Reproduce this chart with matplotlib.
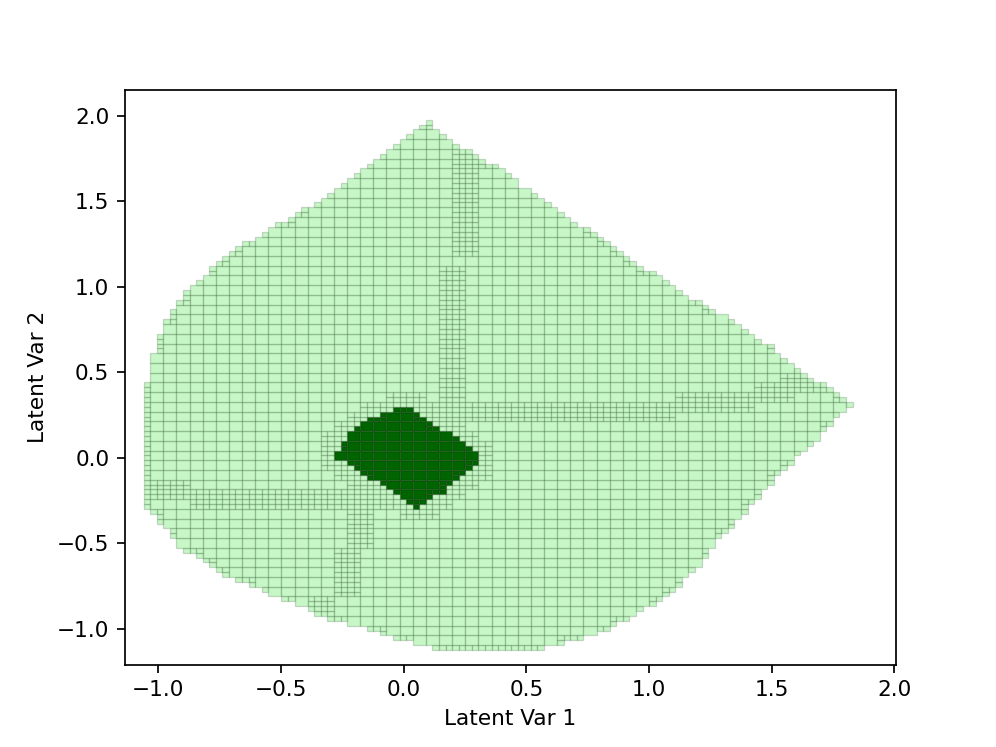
import numpy as np
import matplotlib.pyplot as plt
from matplotlib.path import Path
from matplotlib.patches import Rectangle
from matplotlib.collections import PatchCollection

# outline of the light region
outer_x = [0.101, 0.170, 0.304, 0.414, 0.476, 0.569, 0.679, 0.788, 0.895, 0.997, 1.106, 1.216, 1.318,
           1.425, 1.481, 1.617, 1.691, 1.780, 1.830, 1.800, 1.746, 1.691, 1.597, 1.433, 1.283, 1.168,
           1.046, 0.904, 0.720, 0.516, 0.149, -0.014, -0.164, -0.299, -0.421, -0.584, -0.727, -0.829,
           -0.918, -0.980, -1.033, -1.065, -1.065, -1.033, -1.005, -0.980, -0.924, -0.870, -0.768,
           -0.659, -0.552, -0.450, -0.340]
outer_y = [1.975, 1.879, 1.762, 1.674, 1.591, 1.528, 1.392, 1.304, 1.187, 1.099, 0.988, 0.901, 0.819,
           0.702, 0.673, 0.505, 0.446, 0.358, 0.320, 0.300, 0.212, 0.125, 0.0, -0.246, -0.480, -0.684,
           -0.830, -0.947, -1.064, -1.123, -1.123, -1.064, -0.988, -0.947, -0.860, -0.772, -0.684,
           -0.596, -0.509, -0.392, -0.322, -0.246, 0.329, 0.534, 0.673, 0.760, 0.906, 0.994, 1.129,
           1.246, 1.333, 1.421, 1.509]

# outline of the dark diamond
dia_x = [-0.290, -0.258, -0.204, -0.149, -0.068, -0.042, 0.034, 0.088, 0.197, 0.299, 0.305, 0.251,
         0.170, 0.088, 0.063, 0.037, -0.022, -0.122, -0.204, -0.258, -0.290]
dia_y = [0.005, 0.076, 0.164, 0.222, 0.271, 0.300, 0.300, 0.222, 0.135, 0.047, -0.041, -0.070,
         -0.187, -0.265, -0.294, -0.294, -0.206, -0.129, -0.070, -0.012, -0.012]

# bands where the boxes are split finer (x0, x1, y0, y1)
fine_x0 = [0.197, 0.141, 0.20, 1.099, 1.425, 1.53, -1.07, -0.87, -0.23, -0.287, -0.39]
fine_x1 = [0.304, 0.251, 1.099, 1.425, 1.59, 1.72, -0.87, 0.0, -0.148, -0.177, -0.287]
fine_y0 = [1.18, 0.24, 0.213, 0.271, 0.329, 0.40, -0.246, -0.304, -0.52, -0.80, -0.906]
fine_y1 = [1.88, 1.13, 0.329, 0.388, 0.446, 0.505, -0.129, -0.187, -0.129, -0.526, -0.81]

# box grid
dx, dy = 0.0535, 0.0569
gx0, gy0 = -1.0326, 0.2708

outer = Path(np.column_stack([outer_x, outer_y]))
dia = Path(np.column_stack([dia_x, dia_y]))


def in_fine(cx, cy):
    for a, b, c, d in zip(fine_x0, fine_x1, fine_y0, fine_y1):
        if a <= cx <= b and c <= cy <= d:
            return True
    return False


light = []
dark = []
for k in range(-2, 56):
    for j in range(-26, 31):
        x0 = gx0 + k * dx
        y0 = gy0 + j * dy
        subs = [(x0 + a * dx / 2, y0 + b * dy / 2) for a in (0, 1) for b in (0, 1)]
        cen = [(s[0] + dx / 4, s[1] + dy / 4) for s in subs]
        oin = outer.contains_points(cen)
        if not oin.any():
            continue
        din = dia.contains_points(cen)
        if din.all():
            dark.append((x0, y0, dx, dy))
            continue
        # nearby points for the ring around the diamond
        near = [(x0 + a * dx, y0 + b * dy) for a in (-0.5, 0.5, 1.5) for b in (-0.5, 0.5, 1.5)]
        split = (not oin.all()) or in_fine(x0 + dx / 2, y0 + dy / 2) or dia.contains_points(near).any()
        if not split:
            light.append((x0, y0, dx, dy))
            continue
        for s, o, d in zip(subs, oin, din):
            if d:
                dark.append((s[0], s[1], dx / 2, dy / 2))
            elif o:
                light.append((s[0], s[1], dx / 2, dy / 2))

fig, ax = plt.subplots(dpi=155.625)
pl = PatchCollection([Rectangle((r[0], r[1]), r[2], r[3]) for r in light],
                     facecolor=(0.565, 0.933, 0.565, 0.5), edgecolor=(0, 0.2, 0, 0.18), linewidth=0.6)
pd = PatchCollection([Rectangle((r[0], r[1]), r[2], r[3]) for r in dark],
                     facecolor='darkgreen', edgecolor=(0, 0, 0, 0.2), linewidth=0.6)
ax.add_collection(pl)
ax.add_collection(pd)
ax.set_xlim(-1.137, 2.008)
ax.set_ylim(-1.21, 2.154)
ax.set_xlabel('Latent Var 1')
ax.set_ylabel('Latent Var 2')
plt.savefig('out.png')
